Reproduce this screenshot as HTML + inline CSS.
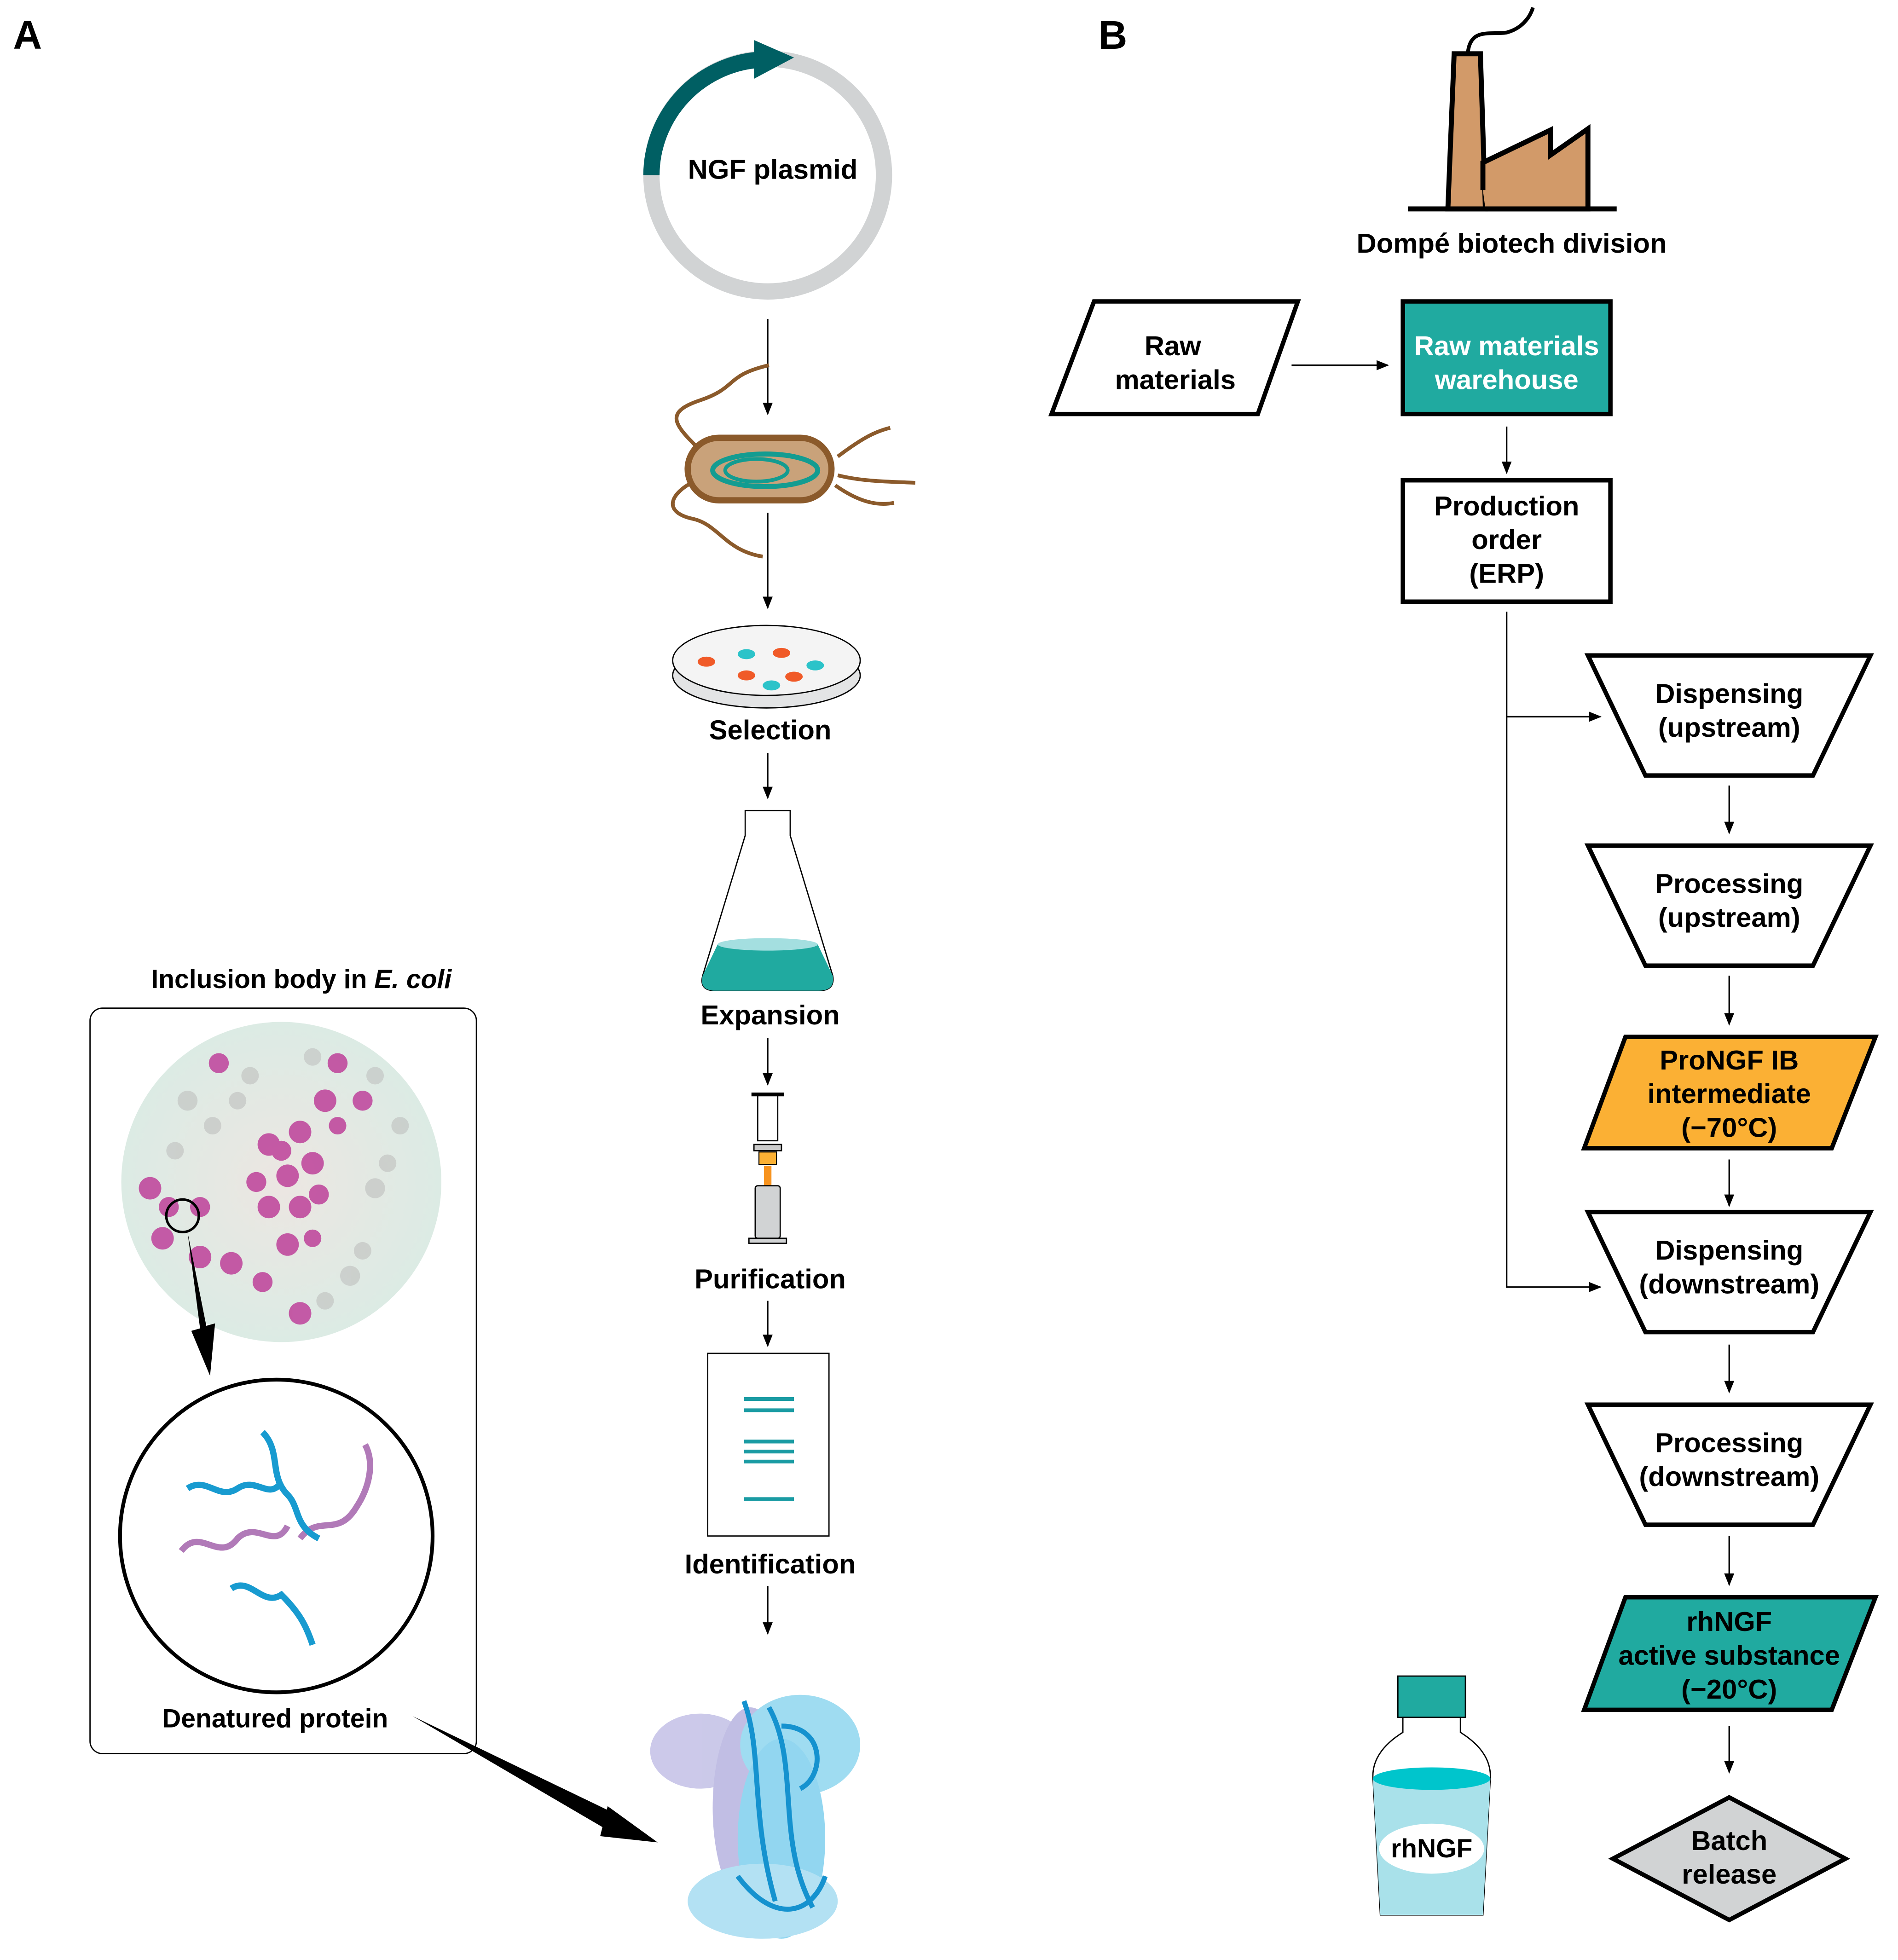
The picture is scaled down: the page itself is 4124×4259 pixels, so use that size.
<!DOCTYPE html>
<html><head><meta charset="utf-8"><style>
html,body{margin:0;padding:0;background:#fff}
svg{display:block}
text{font-family:"Liberation Sans",Arial,sans-serif;font-weight:bold;text-anchor:middle}
</style></head><body>
<svg width="4124" height="4259" viewBox="0 0 1518 1567" preserveAspectRatio="none" xmlns="http://www.w3.org/2000/svg">
<defs>
<marker id="ah" markerWidth="10" markerHeight="10" refX="9" refY="5" orient="auto" markerUnits="userSpaceOnUse"><path d="M0,1 L10,5 L0,9 Z" fill="#000"/></marker>
<radialGradient id="mic" cx="50%" cy="50%" r="50%"><stop offset="0" stop-color="#ece6e2"/><stop offset="1" stop-color="#dcebe4"/></radialGradient>
</defs>
<text x="22" y="39" font-size="32">A</text>
<text x="890" y="39" font-size="32">B</text>

<!-- plasmid -->
<circle cx="614" cy="140" r="93" fill="none" stroke="#d1d3d4" stroke-width="13"/>
<path d="M521,140 A93,93 0 0 1 605,48" fill="none" stroke="#005f63" stroke-width="13"/>
<path d="M603,32 L635,46 L603,63 Z" fill="#005f63"/>
<text x="618" y="143" font-size="22">NGF plasmid</text>

<g stroke="#000" stroke-width="1.2" marker-end="url(#ah)">
<line x1="614" y1="255" x2="614" y2="331"/>
<line x1="614" y1="410" x2="614" y2="486"/>
<line x1="614" y1="602" x2="614" y2="638"/>
<line x1="614" y1="830" x2="614" y2="867"/>
<line x1="614" y1="1040" x2="614" y2="1076"/>
<line x1="614" y1="1268" x2="614" y2="1306"/>
</g>

<!-- bacterium -->
<g fill="none" stroke="#8b5a2b" stroke-width="3">
<path d="M560,360 C540,340 530,330 560,320 C590,310 580,300 615,292"/>
<path d="M555,385 C535,395 530,410 555,415 C575,420 580,440 610,445"/>
<path d="M670,365 C690,350 700,345 712,342"/>
<path d="M670,380 C690,385 710,385 732,386"/>
<path d="M668,388 C685,400 700,405 715,402"/>
</g>
<rect x="550" y="350" width="115" height="50" rx="25" fill="#c9a27a" stroke="#8b5a2b" stroke-width="5"/>
<ellipse cx="612" cy="376" rx="42" ry="13" fill="none" stroke="#139c91" stroke-width="4"/>
<ellipse cx="605" cy="376" rx="25" ry="9" fill="none" stroke="#139c91" stroke-width="3"/>

<!-- petri -->
<ellipse cx="613" cy="540" rx="75" ry="26" fill="#e3e4e5" stroke="#000" stroke-width="1"/>
<ellipse cx="613" cy="528" rx="75" ry="28" fill="#f4f4f4" stroke="#000" stroke-width="1"/>
<g><ellipse cx="565" cy="529" rx="7" ry="4" fill="#f05a28"/><ellipse cx="597" cy="523" rx="7" ry="4" fill="#2cc3c9"/><ellipse cx="625" cy="522" rx="7" ry="4" fill="#f05a28"/><ellipse cx="652" cy="532" rx="7" ry="4" fill="#2cc3c9"/><ellipse cx="597" cy="540" rx="7" ry="4" fill="#f05a28"/><ellipse cx="635" cy="541" rx="7" ry="4" fill="#f05a28"/><ellipse cx="617" cy="548" rx="7" ry="4" fill="#2cc3c9"/></g>
<text x="616" y="591" font-size="22">Selection</text>

<!-- flask -->
<path d="M596,648 L632,648 L632,668 L666,780 Q668,792 655,792 L572,792 Q559,792 562,780 L596,668 Z" fill="#fff" stroke="#000" stroke-width="1"/>
<path d="M574,755 Q614,748 654,755 L666,780 Q668,792 655,792 L572,792 Q559,792 562,780 Z" fill="#20aaa0"/>
<ellipse cx="614" cy="755" rx="40" ry="5" fill="#a4dfe0"/>
<text x="616" y="819" font-size="22">Expansion</text>

<!-- syringe -->
<line x1="601" y1="875" x2="627" y2="875" stroke="#000" stroke-width="3"/>
<rect x="606" y="876" width="16" height="36" fill="#fff" stroke="#000" stroke-width="1"/>
<rect x="603" y="915" width="22" height="5" fill="#ccc" stroke="#000" stroke-width="1"/>
<rect x="607" y="921" width="14" height="10" fill="#fbb034" stroke="#000" stroke-width="0.8"/>
<rect x="611" y="932" width="6" height="16" fill="#f7931e"/>
<rect x="604" y="948" width="20" height="42" rx="2" fill="#d1d3d4" stroke="#000" stroke-width="1"/>
<rect x="599" y="990" width="30" height="4" fill="#d1d3d4" stroke="#000" stroke-width="1"/>
<text x="616" y="1030" font-size="22">Purification</text>

<!-- gel -->
<rect x="566" y="1082" width="97" height="146" fill="#fff" stroke="#000" stroke-width="1"/>
<g fill="#1a9ba3"><rect x="595" y="1117" width="40" height="3"/><rect x="595" y="1126" width="40" height="3"/><rect x="595" y="1151" width="40" height="3"/><rect x="595" y="1159" width="40" height="3"/><rect x="595" y="1167" width="40" height="3"/><rect x="595" y="1197" width="40" height="3"/></g>
<text x="616" y="1258" font-size="22">Identification</text>

<!-- native protein -->
<g opacity="0.85">
<ellipse cx="560" cy="1400" rx="40" ry="30" fill="#c3c0e6"/>
<ellipse cx="600" cy="1445" rx="30" ry="80" fill="#b7b3e0"/>
<ellipse cx="640" cy="1395" rx="48" ry="40" fill="#8fd7ef"/>
<ellipse cx="625" cy="1470" rx="35" ry="80" fill="#7fd0ee"/>
<ellipse cx="610" cy="1520" rx="60" ry="30" fill="#a6dcf1"/>
</g>
<g fill="none" stroke="#1592cf" stroke-width="4">
<path d="M595,1360 C610,1400 600,1450 620,1520"/>
<path d="M615,1365 C640,1410 620,1470 650,1525"/>
<path d="M625,1380 C660,1380 660,1420 640,1430"/>
<path d="M590,1500 C620,1540 650,1530 660,1500"/>
</g>

<!-- inclusion panel -->
<text x="241" y="790" font-size="21">Inclusion body in <tspan font-style="italic">E. coli</tspan></text>
<rect x="72" y="806" width="309" height="596" rx="10" fill="none" stroke="#000" stroke-width="1"/>
<circle cx="225" cy="945" r="128" fill="url(#mic)"/>
<g fill="#bbb" opacity="0.55"><circle cx="150" cy="880" r="8"/><circle cx="300" cy="950" r="8"/><circle cx="280" cy="1020" r="8"/><circle cx="190" cy="880" r="7"/><circle cx="320" cy="900" r="7"/><circle cx="170" cy="900" r="7"/><circle cx="200" cy="860" r="7"/><circle cx="290" cy="1000" r="7"/><circle cx="260" cy="1040" r="7"/><circle cx="310" cy="930" r="7"/><circle cx="140" cy="920" r="7"/><circle cx="300" cy="860" r="7"/><circle cx="250" cy="845" r="7"/></g>
<g fill="#c04a9e" opacity="0.9">
<circle cx="215" cy="915" r="9"/><circle cx="240" cy="905" r="9"/><circle cx="260" cy="880" r="9"/><circle cx="230" cy="940" r="9"/><circle cx="250" cy="930" r="9"/><circle cx="215" cy="965" r="9"/><circle cx="240" cy="965" r="9"/><circle cx="120" cy="950" r="9"/><circle cx="130" cy="990" r="9"/><circle cx="160" cy="1005" r="9"/><circle cx="185" cy="1010" r="9"/><circle cx="230" cy="995" r="9"/><circle cx="270" cy="850" r="8"/><circle cx="290" cy="880" r="8"/><circle cx="205" cy="945" r="8"/><circle cx="240" cy="1050" r="9"/><circle cx="175" cy="850" r="8"/><circle cx="160" cy="965" r="8"/><circle cx="250" cy="990" r="7"/><circle cx="225" cy="920" r="8"/><circle cx="255" cy="955" r="8"/><circle cx="135" cy="965" r="8"/><circle cx="210" cy="1025" r="8"/><circle cx="270" cy="900" r="7"/>
</g>
<circle cx="146" cy="972" r="13" fill="none" stroke="#000" stroke-width="2"/>
<path d="M150,985 L165,1060 L172,1058 L168,1100 L153,1064 L160,1062 Z" fill="#000"/>
<circle cx="221" cy="1228" r="125" fill="#fff" stroke="#000" stroke-width="3"/>
<g fill="none" stroke-width="5">
<path d="M145,1240 C160,1220 175,1250 190,1230 C205,1215 220,1240 230,1220" stroke="#b17ab8"/>
<path d="M240,1230 C255,1210 270,1230 285,1205 C295,1190 300,1170 292,1155" stroke="#b17ab8"/>
<path d="M150,1190 C165,1180 175,1200 190,1190 C205,1180 215,1200 225,1185" stroke="#189bd0"/>
<path d="M210,1145 C225,1160 215,1180 230,1195 C240,1205 235,1220 255,1230" stroke="#189bd0"/>
<path d="M185,1270 C200,1260 210,1285 225,1275 C240,1290 245,1300 250,1315" stroke="#189bd0"/>
</g>
<text x="220" y="1381" font-size="21">Denatured protein</text>
<path d="M330,1372 L492,1450 L484,1462 Z" fill="#000"/>
<path d="M486,1444 L526,1473 L480,1468 Z" fill="#000"/>

<!-- factory -->
<path d="M1158,167 L1163,43 L1184,43 L1188,167 Z" fill="#d29a69" stroke="#000" stroke-width="4"/>
<path d="M1186,152 L1186,130 L1240,104 L1240,124 L1270,103 L1270,167 L1188,167" fill="#d29a69" stroke="#000" stroke-width="4"/>
<path d="M1174,42 C1176,22 1192,28 1205,26 C1220,22 1225,10 1226,6" fill="none" stroke="#000" stroke-width="3"/>
<line x1="1126" y1="167" x2="1293" y2="167" stroke="#000" stroke-width="4"/>
<text x="1209" y="202" font-size="22">Dompé biotech division</text>

<!-- flowchart -->
<g stroke="#000" stroke-width="3.5">
<polygon points="875,241 1038,241 1006,331 841,331" fill="#fff"/>
<rect x="1122" y="241" width="166" height="90" fill="#20aaa0"/>
<rect x="1122" y="384" width="166" height="97" fill="#fff"/>
<polygon points="1270,524 1496,524 1450,620 1316,620" fill="#fff"/>
<polygon points="1270,676 1496,676 1450,772 1316,772" fill="#fff"/>
<polygon points="1300,829 1500,829 1465,918 1267,918" fill="#fbb034"/>
<polygon points="1270,969 1496,969 1450,1065 1316,1065" fill="#fff"/>
<polygon points="1270,1123 1496,1123 1450,1219 1316,1219" fill="#fff"/>
<polygon points="1300,1277 1500,1277 1465,1367 1267,1367" fill="#20aaa0"/>
<polygon points="1290,1486 1383,1437 1476,1486 1383,1535" fill="#d1d3d4"/>
</g>
<g stroke="#000" stroke-width="1.2" fill="none">
<line x1="1033" y1="292" x2="1110" y2="292" marker-end="url(#ah)"/>
<line x1="1205" y1="341" x2="1205" y2="378" marker-end="url(#ah)"/>
<polyline points="1205,489 1205,1029 1280,1029" marker-end="url(#ah)"/>
<line x1="1205" y1="573" x2="1280" y2="573" marker-end="url(#ah)"/>
<line x1="1383" y1="628" x2="1383" y2="666" marker-end="url(#ah)"/>
<line x1="1383" y1="780" x2="1383" y2="819" marker-end="url(#ah)"/>
<line x1="1383" y1="927" x2="1383" y2="964" marker-end="url(#ah)"/>
<line x1="1383" y1="1075" x2="1383" y2="1113" marker-end="url(#ah)"/>
<line x1="1383" y1="1228" x2="1383" y2="1267" marker-end="url(#ah)"/>
<line x1="1383" y1="1380" x2="1383" y2="1417" marker-end="url(#ah)"/>
</g>
<g font-size="22">
<text x="938" y="284">Raw</text><text x="940" y="311">materials</text>
<text x="1205" y="284" fill="#fff">Raw materials</text><text x="1205" y="311" fill="#fff">warehouse</text>
<text x="1205" y="412">Production</text><text x="1205" y="439">order</text><text x="1205" y="466">(ERP)</text>
<text x="1383" y="562">Dispensing</text><text x="1383" y="589">(upstream)</text>
<text x="1383" y="714">Processing</text><text x="1383" y="741">(upstream)</text>
<text x="1383" y="855">ProNGF IB</text><text x="1383" y="882">intermediate</text><text x="1383" y="909">(−70°C)</text>
<text x="1383" y="1007">Dispensing</text><text x="1383" y="1034">(downstream)</text>
<text x="1383" y="1161">Processing</text><text x="1383" y="1188">(downstream)</text>
<text x="1383" y="1304">rhNGF</text><text x="1383" y="1331">active substance</text><text x="1383" y="1358">(−20°C)</text>
<text x="1383" y="1479">Batch</text><text x="1383" y="1506">release</text>
</g>

<!-- bottle -->
<rect x="1118" y="1340" width="54" height="33" fill="#20aaa0" stroke="#000" stroke-width="1"/>
<path d="M1122,1373 L1168,1373 L1168,1385 Q1192,1400 1192,1420 L1186,1531 L1104,1531 L1098,1420 Q1098,1400 1122,1385 Z" fill="#fff" stroke="#000" stroke-width="1"/>
<path d="M1098,1422 L1192,1422 L1186,1531 L1104,1531 Z" fill="#a9e1ea"/>
<ellipse cx="1145" cy="1422" rx="47" ry="9" fill="#00c5cc"/>
<ellipse cx="1145" cy="1478" rx="42" ry="20" fill="#fff"/>
<text x="1145" y="1485" font-size="21">rhNGF</text>
</svg>
</body></html>
